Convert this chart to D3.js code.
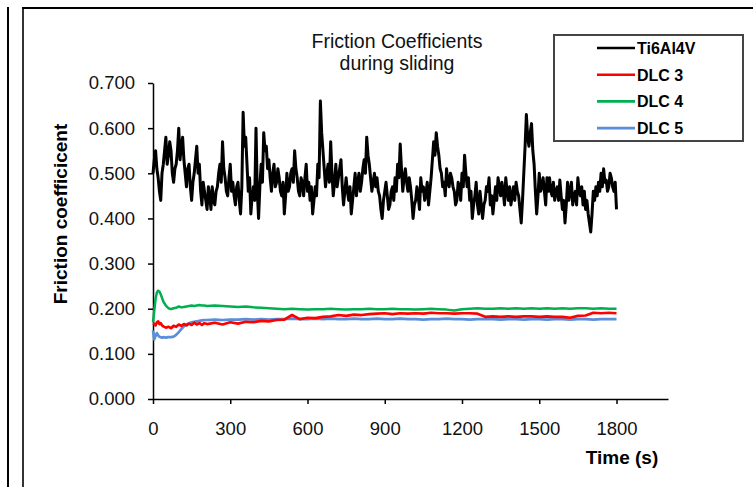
<!DOCTYPE html>
<html>
<head>
<meta charset="utf-8">
<script src="https://cdn.jsdelivr.net/npm/d3@7"></script>
<style>
  html, body { margin: 0; padding: 0; background: #fff; }
  svg { display: block; font-family: "Liberation Sans", Arial, sans-serif; }
</style>
</head>
<body>
<svg id="chart" width="753" height="487"></svg>
<script>
// Sliding time grid for the Ti6Al4V trace (s), one reading every 5 s
const tiTime = d3.range(0, 1801, 5);
// Friction coefficient of uncoated Ti6Al4V
const tiValues = [
  0.50, 0.53, 0.55, 0.51, 0.49, 0.46, 0.44, 0.50, 0.52, 0.55,
  0.58, 0.52, 0.54, 0.57, 0.55, 0.50, 0.48, 0.51, 0.52, 0.55,
  0.60, 0.53, 0.56, 0.58, 0.53, 0.50, 0.47, 0.51, 0.52, 0.47,
  0.44, 0.48, 0.50, 0.53, 0.56, 0.50, 0.52, 0.46, 0.43, 0.48,
  0.46, 0.44, 0.42, 0.47, 0.45, 0.42, 0.47, 0.44, 0.43, 0.46,
  0.47, 0.50, 0.52, 0.48, 0.57, 0.51, 0.49, 0.46, 0.45, 0.49,
  0.52, 0.46, 0.48, 0.45, 0.43, 0.47, 0.48, 0.44, 0.41, 0.47,
  0.635, 0.56, 0.58, 0.52, 0.46, 0.49, 0.41, 0.45, 0.47, 0.44,
  0.60, 0.46, 0.40, 0.47, 0.52, 0.48, 0.59, 0.55, 0.56, 0.51,
  0.53, 0.49, 0.46, 0.50, 0.52, 0.47, 0.48, 0.51, 0.49, 0.46,
  0.45, 0.48, 0.41, 0.45, 0.50, 0.46, 0.47, 0.50, 0.51, 0.48,
  0.55, 0.51, 0.49, 0.46, 0.45, 0.49, 0.48, 0.45, 0.49, 0.52,
  0.46, 0.48, 0.44, 0.47, 0.41, 0.44, 0.47, 0.45, 0.52, 0.49,
  0.66, 0.59, 0.55, 0.51, 0.47, 0.50, 0.52, 0.48, 0.57, 0.50,
  0.45, 0.48, 0.52, 0.47, 0.49, 0.51, 0.53, 0.47, 0.43, 0.46,
  0.49, 0.46, 0.44, 0.47, 0.41, 0.44, 0.47, 0.50, 0.45, 0.48,
  0.50, 0.46, 0.48, 0.51, 0.53, 0.50, 0.58, 0.54, 0.52, 0.49,
  0.46, 0.48, 0.50, 0.47, 0.49, 0.46, 0.45, 0.42, 0.40, 0.44,
  0.46, 0.48, 0.45, 0.42, 0.43, 0.46, 0.47, 0.44, 0.49, 0.46,
  0.52, 0.49, 0.565, 0.51, 0.46, 0.49, 0.51, 0.48, 0.46, 0.49,
  0.47, 0.44, 0.40, 0.43, 0.44, 0.47, 0.45, 0.42, 0.49, 0.46,
  0.47, 0.44, 0.455, 0.48, 0.43, 0.46, 0.49, 0.53, 0.57, 0.54,
  0.59, 0.56, 0.54, 0.51, 0.50, 0.47, 0.48, 0.45, 0.51, 0.48,
  0.47, 0.50, 0.49, 0.47, 0.46, 0.43, 0.44, 0.48, 0.47, 0.44,
  0.50, 0.47, 0.54, 0.50, 0.47, 0.49, 0.44, 0.46, 0.40, 0.43,
  0.45, 0.48, 0.43, 0.41, 0.46, 0.43, 0.40, 0.43, 0.44, 0.47,
  0.46, 0.49, 0.43, 0.45, 0.41, 0.44, 0.47, 0.44, 0.49, 0.47,
  0.45, 0.48, 0.46, 0.43, 0.49, 0.46, 0.44, 0.47, 0.43, 0.45,
  0.47, 0.44, 0.48, 0.46, 0.45, 0.42, 0.39, 0.44, 0.50, 0.56,
  0.63, 0.58, 0.56, 0.59, 0.61, 0.55, 0.52, 0.46, 0.41, 0.45,
  0.50, 0.46, 0.47, 0.49, 0.46, 0.43, 0.49, 0.46, 0.49, 0.46,
  0.45, 0.48, 0.44, 0.46, 0.47, 0.44, 0.485, 0.45, 0.42, 0.44,
  0.39, 0.43, 0.48, 0.44, 0.46, 0.48, 0.43, 0.45, 0.46, 0.43,
  0.49, 0.46, 0.45, 0.47, 0.43, 0.46, 0.42, 0.44, 0.41, 0.39,
  0.37, 0.41, 0.46, 0.44, 0.47, 0.45, 0.48, 0.46, 0.50, 0.47,
  0.51, 0.48, 0.485, 0.46, 0.47, 0.50, 0.49, 0.47, 0.46, 0.48,
  0.42
];

// Sampling times for the DLC coatings (s)
const dlcTime = [
  0, 5, 10, 15, 20, 25, 30, 35, 40, 50, 60, 70, 80, 90, 100, 110, 120, 130,
  140, 150, 160, 170, 180, 190, 200,
  210, 240, 270, 300, 330, 360, 390, 420, 450, 480, 510, 540, 570, 600,
  630, 660, 690, 720, 750, 780, 810, 840, 870, 900, 930, 960, 990, 1020,
  1050, 1080, 1110, 1140, 1170, 1200, 1230, 1260, 1290, 1320, 1350, 1380,
  1410, 1440, 1470, 1500, 1530, 1560, 1590, 1620, 1650, 1680, 1710, 1740,
  1770, 1800
];
const dlc3Values = [
  0.168, 0.166, 0.163, 0.170, 0.172, 0.166, 0.168, 0.163, 0.161, 0.158,
  0.160, 0.157, 0.162, 0.160, 0.165, 0.162, 0.166, 0.163, 0.167, 0.164,
  0.169, 0.165, 0.168, 0.164, 0.168,
  0.166, 0.169, 0.165, 0.170, 0.167, 0.171, 0.170, 0.173, 0.172, 0.175,
  0.176, 0.186, 0.177, 0.180, 0.179, 0.182, 0.183, 0.186, 0.184, 0.187,
  0.186, 0.188, 0.189, 0.190, 0.188, 0.190, 0.189, 0.190, 0.189, 0.191,
  0.190, 0.190, 0.189, 0.190, 0.190, 0.189, 0.182, 0.183, 0.182, 0.183,
  0.182, 0.183, 0.183, 0.182, 0.183, 0.182, 0.182, 0.180, 0.184, 0.185,
  0.191, 0.190, 0.191, 0.190
];
const dlc4Values = [
  0.170, 0.195, 0.222, 0.236, 0.240, 0.238, 0.232, 0.224, 0.216, 0.207,
  0.201, 0.199, 0.201, 0.202, 0.205, 0.203, 0.204, 0.205, 0.206, 0.207,
  0.206, 0.207, 0.208, 0.207, 0.207,
  0.206, 0.207, 0.206, 0.205, 0.204, 0.205, 0.203, 0.202, 0.201, 0.200,
  0.199, 0.200, 0.199, 0.198, 0.199, 0.199, 0.200, 0.199, 0.198, 0.199,
  0.199, 0.200, 0.199, 0.199, 0.200, 0.199, 0.199, 0.198, 0.199, 0.200,
  0.199, 0.198, 0.196, 0.199, 0.200, 0.201, 0.200, 0.200, 0.201, 0.200,
  0.201, 0.200, 0.201, 0.200, 0.201, 0.200, 0.201, 0.200, 0.201, 0.201,
  0.200, 0.201, 0.200, 0.200
];
const dlc5Values = [
  0.152, 0.132, 0.140, 0.146, 0.141, 0.138, 0.137, 0.136, 0.137, 0.136,
  0.137, 0.137, 0.138, 0.142, 0.148, 0.155, 0.161, 0.165, 0.168, 0.170,
  0.171, 0.172, 0.173, 0.174, 0.175,
  0.175, 0.176, 0.175, 0.176, 0.176, 0.177, 0.176, 0.177, 0.176, 0.177,
  0.177, 0.178, 0.177, 0.177, 0.178, 0.177, 0.178, 0.177, 0.177, 0.178,
  0.177, 0.177, 0.178, 0.177, 0.177, 0.178, 0.177, 0.177, 0.176, 0.177,
  0.177, 0.178, 0.177, 0.177, 0.176, 0.177, 0.177, 0.177, 0.176, 0.177,
  0.177, 0.176, 0.177, 0.177, 0.176, 0.177, 0.177, 0.176, 0.177, 0.177,
  0.176, 0.177, 0.177, 0.177
];

const seriesNames = ["Ti6Al4V", "DLC 3", "DLC 4", "DLC 5"];
const seriesColors = ["#000000", "#ff0000", "#00b050", "#5b8ed8"];
const xTicks = [0, 300, 600, 900, 1200, 1500, 1800];
const yTicks = [0, 0.1, 0.2, 0.3, 0.4, 0.5, 0.6, 0.7];
const titleLines = ["Friction Coefficients", "during sliding"];

const svg = d3.select("#chart");

// Frame lines around the figure
svg.append("line").attr("x1", 8).attr("x2", 8).attr("y1", 7).attr("y2", 487)
  .attr("stroke", "#000").attr("stroke-width", 2);
svg.append("line").attr("x1", 23).attr("x2", 23).attr("y1", 8).attr("y2", 487)
  .attr("stroke", "#333").attr("stroke-width", 2);
svg.append("line").attr("x1", 22).attr("x2", 753).attr("y1", 8).attr("y2", 8)
  .attr("stroke", "#000").attr("stroke-width", 2);

const x = d3.scaleLinear().domain([0, 2000]).range([153, 668]);
const y = d3.scaleLinear().domain([0, 0.7]).range([399, 83]);

// Axes
const yAxis = svg.append("g").attr("transform", "translate(153,0)")
  .call(d3.axisLeft(y).tickValues(yTicks).tickFormat(d3.format(".3f"))
    .tickSize(5).tickSizeOuter(0).tickPadding(13));
const xAxis = svg.append("g").attr("transform", "translate(0,399)")
  .call(d3.axisBottom(x).tickValues(xTicks).tickFormat(d3.format("d"))
    .tickSize(5).tickSizeOuter(0).tickPadding(18));
[yAxis, xAxis].forEach(g => {
  g.select(".domain").attr("stroke", "#000").attr("stroke-width", 1.5);
  g.selectAll(".tick line").attr("stroke", "#000").attr("stroke-width", 1.5);
  g.selectAll(".tick text").attr("fill", "#111")
    .style("font-family", "'Liberation Sans', Arial, sans-serif").style("font-size", "18.5px");
});

// Series: DLC traces underneath, Ti6Al4V on top
const line = d3.line().x(d => x(d[0])).y(d => y(d[1]));
const seriesData = [
  d3.zip(tiTime, tiValues),
  d3.zip(dlcTime, dlc3Values),
  d3.zip(dlcTime, dlc4Values),
  d3.zip(dlcTime, dlc5Values)
];
const widths = [3, 2.7, 2.5, 2.7];
[3, 1, 2, 0].forEach(i => {
  svg.append("path").datum(seriesData[i])
    .attr("fill", "none").attr("stroke", seriesColors[i])
    .attr("stroke-width", widths[i]).attr("stroke-linejoin", "round")
    .attr("d", line);
});

// Title
svg.append("text").attr("x", 397).attr("y", 48).attr("text-anchor", "middle")
  .style("font-size", "19.5px").attr("fill", "#111")
  .selectAll("tspan").data(titleLines).join("tspan")
  .attr("x", 397).attr("dy", (d, i) => i === 0 ? 0 : 22).text(d => d);

// Axis titles
svg.append("text").attr("transform", "translate(67,214) rotate(-90)")
  .attr("text-anchor", "middle").style("font-size", "19px").style("font-weight", "bold")
  .text("Friction coefficicent");
svg.append("text").attr("x", 622).attr("y", 464).attr("text-anchor", "middle")
  .style("font-size", "19px").style("font-weight", "bold").text("Time (s)");

// Legend
const legend = svg.append("g");
legend.append("rect").attr("x", 554).attr("y", 35).attr("width", 189).attr("height", 106)
  .attr("fill", "#fff").attr("stroke", "#444").attr("stroke-width", 2);
const rows = legend.selectAll("g.row").data(seriesNames).join("g")
  .attr("transform", (d, i) => `translate(0,${48 + i * 26.7})`);
rows.append("line").attr("x1", 597).attr("x2", 635).attr("y1", 0).attr("y2", 0)
  .attr("stroke", (d, i) => seriesColors[i]).attr("stroke-width", 2.6);
rows.append("text").attr("x", 637).attr("y", 6)
  .style("font-size", "16px").style("font-weight", "bold").text(d => d);
</script>
</body>
</html>
